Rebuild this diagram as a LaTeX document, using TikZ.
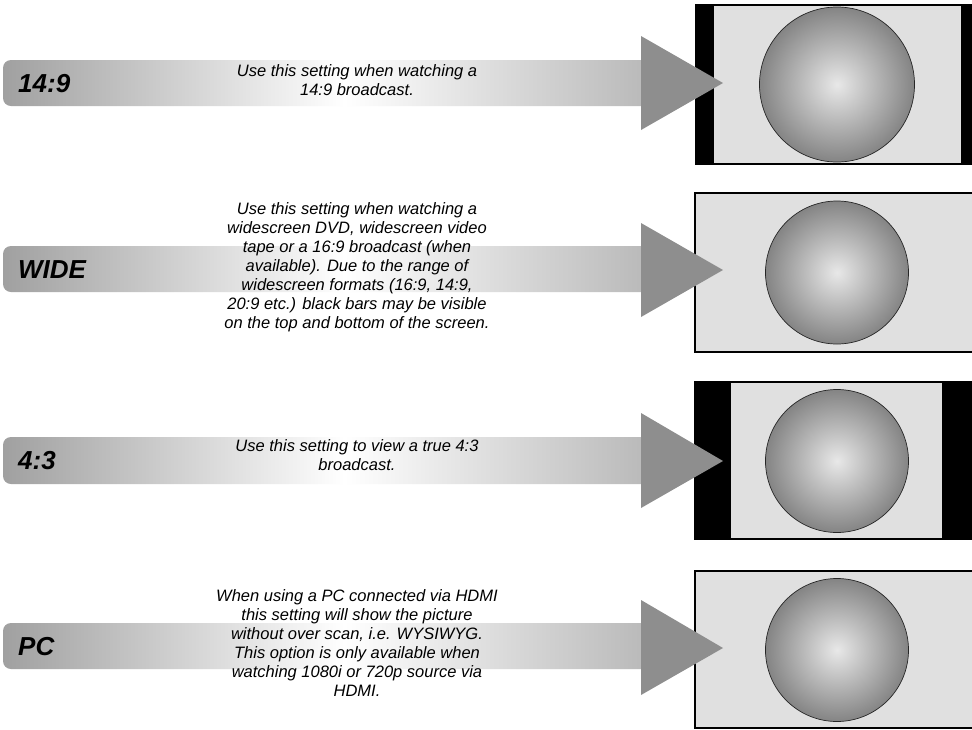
\documentclass[tikz,border=0pt]{standalone}
\usepackage{fontspec}
\setmainfont{Liberation Sans}
\definecolor{barL}{HTML}{A0A0A0}
\definecolor{barR}{HTML}{B6B6B6}
\definecolor{tri}{HTML}{8E8E8E}
\definecolor{scr}{HTML}{E0E0E0}
\definecolor{ballIn}{HTML}{E8E8E8}
\definecolor{ballOut}{HTML}{848484}
\pgfdeclarehorizontalshading{barshade}{100bp}{color(0bp)=(barL); color(25bp)=(barL); color(51bp)=(white); color(75bp)=(barR); color(100bp)=(barR)}
\tikzset{
  barbox/.style={shading=barshade, rounded corners=8pt},
  arrowtri/.style={fill=tri},
  screenbox/.style={fill=scr, draw=black, line width=1.4pt},
  blackbar/.style={fill=black},
  ball/.style={inner color=ballIn, outer color=ballOut, draw=black!85, line width=0.7pt},
  modelabel/.style={anchor=west, inner sep=0pt, font=\bfseries\itshape\fontsize{26}{30}\selectfont},
  desc/.style={anchor=north, inner sep=0pt, align=center, font=\itshape\fontsize{16.5}{19}\selectfont}
}
\begin{document}
\begin{tikzpicture}[x=1pt,y=-1pt]
\clip (0,0) rectangle (972,729);
\fill[white] (0,0) rectangle (972,729);

% ---------- Row 1: 14:9 ----------
\shade[barbox] (3,60) rectangle (660,106);
\draw[screenbox] (696,5) rectangle (979,164);
\fill[blackbar] (696,5) rectangle (714,164);
\fill[blackbar] (961,5) rectangle (979,164);
\draw[screenbox, fill=none] (696,5) rectangle (979,164);
\shade[ball] (837,84.5) circle (77.5);
\fill[arrowtri] (641,36) -- (723,83) -- (641,130) -- cycle;
\node[modelabel] (l1) at (18,84) {14:9};
\node[desc] (d1) at (357,64) {Use this setting when watching a\\14:9 broadcast.};

% ---------- Row 2: WIDE ----------
\shade[barbox] (3,246) rectangle (660,292);
\draw[screenbox] (695,193) rectangle (979,352);
\shade[ball] (837,272.5) circle (71.5);
\fill[arrowtri] (641,223) -- (723,270) -- (641,317) -- cycle;
\node[modelabel] (l2) at (18,269.5) {WIDE};
\node[desc] (d2) at (357,202) {Use this setting when watching a\\widescreen DVD, widescreen video\\tape or a 16:9 broadcast (when\\available). Due to the range of\\widescreen formats (16:9, 14:9,\\20:9 etc.) black bars may be visible\\on the top and bottom of the screen.};

% ---------- Row 3: 4:3 ----------
\shade[barbox] (3,437) rectangle (660,484);
\draw[screenbox] (695,382) rectangle (979,539);
\fill[blackbar] (695,382) rectangle (731,539);
\fill[blackbar] (942,382) rectangle (979,539);
\draw[screenbox, fill=none] (695,382) rectangle (979,539);
\shade[ball] (837,461) circle (71.5);
\fill[arrowtri] (641,413) -- (723,461) -- (641,508) -- cycle;
\node[modelabel] (l3) at (18,460.5) {4:3};
\node[desc] (d3) at (357,439) {Use this setting to view a true 4:3\\broadcast.};

% ---------- Row 4: PC ----------
\shade[barbox] (3,623) rectangle (660,669);
\draw[screenbox] (695,571) rectangle (979,728);
\shade[ball] (837,650) circle (71.5);
\fill[arrowtri] (641,600) -- (723,648) -- (641,695) -- cycle;
\node[modelabel] (l4) at (18,646.5) {PC};
\node[desc] (d4) at (357,589) {When using a PC connected via HDMI\\this setting will show the picture\\without over scan, i.e. WYSIWYG.\\This option is only available when\\watching 1080i or 720p source via\\HDMI.};
\end{tikzpicture}
\end{document}
